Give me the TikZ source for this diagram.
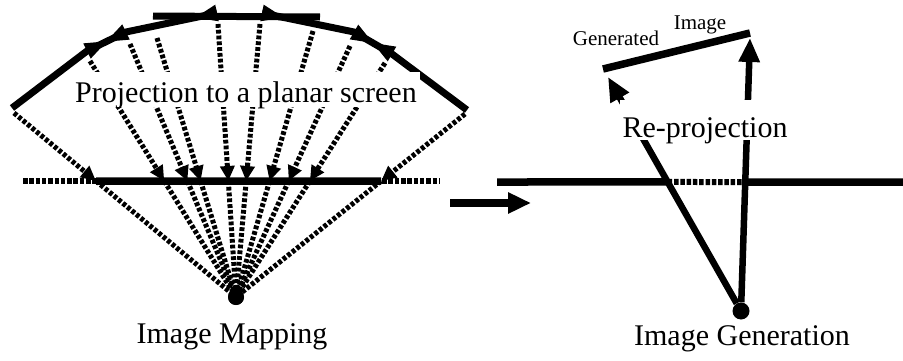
\documentclass[tikz,border=0pt]{standalone}
\usepackage{fontspec}
\setmainfont{Liberation Serif}
\usetikzlibrary{arrows.meta,calc}
\begin{document}
\begin{tikzpicture}[x=1pt,y=1pt,
  arcline/.style={line width=7pt, line join=round},
  screenline/.style={line width=7.5pt},
  screendots/.style={line width=6pt, dash pattern=on 4.5pt off 1.8pt},
  rayline/.style={line width=5pt, dash pattern=on 3.8pt off 2pt},
  raytip/.style={-{Triangle[length=15pt,width=14pt]}},
  bigarrow/.style={line width=6.5pt, -{Triangle[length=24pt,width=20pt]}},
  dot/.style={circle, fill=black, inner sep=0pt, minimum size=16pt},
  bigtext/.style={font=\fontsize{30}{36}\selectfont, inner sep=0pt},
  smalltext/.style={font=\fontsize{21}{25}\selectfont, inner sep=0pt},
]
\useasboundingbox (0,0) rectangle (903,360);

% ---------- left: projection of the curved image onto a plane ----------
% polygonal arc
\coordinate (A0) at (12,252);
\coordinate (A1) at (87,309);
\coordinate (A2) at (126,328);
\coordinate (T1) at (217,347);
\coordinate (T2) at (262,347);
\coordinate (A5) at (354,328);
\coordinate (A6) at (392,306);
\coordinate (A7) at (467,250);
\coordinate (TB1) at (153,344);
\coordinate (TB2) at (320,343);

\draw[arcline] (A0) -- (A1) -- (A2) -- (T1);
\draw[arcline] (T2) -- (A5) -- (A6) -- (A7);
\draw[line width=7pt] (TB1) -- (TB2);

% wedge marks at the joints of the arc
\foreach \J/\N in {A1/A2, A2/A1, T1/A2, T2/A5, A5/A6, A6/A5}
  \fill ($(\J)!8.5pt!90:(\N)$) -- ($(\J)!22pt!(\N)$) -- ($(\J)!8.5pt!-90:(\N)$) -- cycle;

% planar screen
\coordinate (scrA) at (0,179);
\coordinate (scrB) at (903,179);
\coordinate (SD1) at (23,179);
\coordinate (SD2) at (440,179);
\draw[screendots] (SD1) -- (SD2);

% centre of projection
\coordinate (Cc) at (236,63);
\node[dot] (C) at (Cc) {};

% rays from the arc through the screen to the centre
\coordinate (RL) at (14,247);
\coordinate (R1) at (90,299);
\coordinate (R2) at (130,316);
\coordinate (R3) at (157,322);
\coordinate (R4) at (218,336);
\coordinate (R5) at (260,336);
\coordinate (R6) at (313,329);
\coordinate (R7) at (350,314);
\coordinate (R8) at (385,297);
\coordinate (RR) at (465,246);
\foreach \r in {RL,R1,R2,R3,R4,R5,R6,R7,R8,RR} {
  \coordinate (S\r) at (intersection of \r--Cc and scrA--scrB);
  \draw[rayline, raytip] (\r) -- (S\r);
  \draw[rayline] (S\r) -- (Cc);
}
\draw[screenline] (SRL) -- (SRR);
\node[dot] at (Cc) {};

\node[bigtext, fill=white, text height=30pt, text depth=5pt, inner xsep=3pt, anchor=base]
  (lblProj) at (246,258) {Projection to a planar screen};
\node[bigtext, anchor=base] (lblMap) at (232,17) {Image Mapping};

% ---------- middle arrow ----------
\coordinate (M1) at (450,157);
\coordinate (M2) at (531,157);
\draw[line width=7.5pt, -{Triangle[length=23pt,width=20pt]}] (M1) -- (M2);

% ---------- right: re-projection of the generated image ----------
\node[dot, minimum size=17pt] (G) at (741,49) {};
\coordinate (GT1) at (608,283);
\coordinate (GT2) at (750,322);
\coordinate (GI1) at (603,291);
\coordinate (GI2) at (750,327);
\draw[line width=7.5pt] (GI1) -- (GI2);

\coordinate (rsA) at (497,178);
\coordinate (rsB) at (903,178);
\coordinate (X1) at (intersection of G--GT1 and rsA--rsB);
\coordinate (X2) at (intersection of G--GT2 and rsA--rsB);
\draw[screenline] (rsA) -- (X1);
\draw[screendots] (X1) -- (X2);
\draw[screenline] (X2) -- (rsB);

\draw[bigarrow] (G) -- (GT1);
\draw[bigarrow] (G) -- (GT2);

\node[bigtext, fill=white, text height=37pt, text depth=3pt, inner xsep=3pt, anchor=base]
  (lblRe) at (705,223) {Re-projection};
\node[bigtext, anchor=base] (lblGen) at (742,15) {Image Generation};
\node[smalltext, anchor=base] (lblGenerated) at (616,315) {Generated};
\node[smalltext, anchor=base] (lblImage) at (700,331) {Image};
\end{tikzpicture}
\end{document}
